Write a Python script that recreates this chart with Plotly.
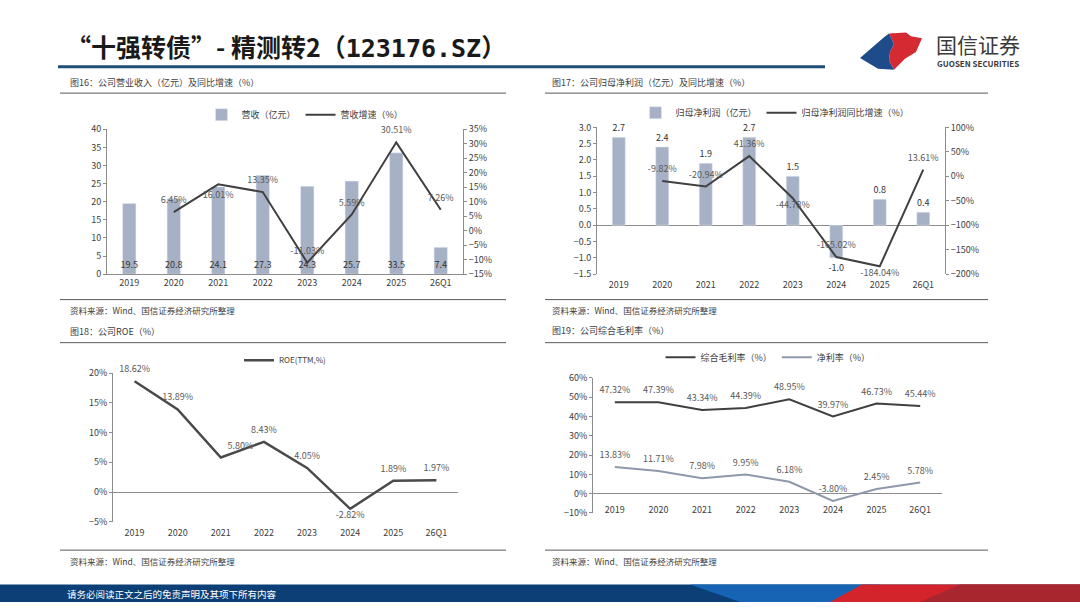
import plotly.graph_objects as go

W, H = 1080, 608


def px(x):
    return x / W


def py(y):
    return 1 - y / H


years = ["2019", "2020", "2021", "2022", "2023", "2024", "2025", "26Q1"]
revenue = [19.5, 20.8, 24.1, 27.3, 24.3, 25.7, 33.5, 7.4]
revenue_yoy = [None, 6.45, 16.01, 13.35, -11.03, 5.59, 30.51, 7.26]
net_profit = [2.7, 2.4, 1.9, 2.7, 1.5, -1.0, 0.8, 0.4]
net_profit_yoy = [None, -9.82, -20.94, 41.36, -44.78, -165.02, -184.04, 13.61]
roe = [18.62, 13.89, 5.80, 8.43, 4.05, -2.82, 1.89, 1.97]
gross_margin = [47.32, 47.39, 43.34, 44.39, 48.95, 39.97, 46.73, 45.44]
net_margin = [13.83, 11.71, 7.98, 9.95, 6.18, -3.80, 2.45, 5.78]

FONT = "Noto Sans CJK SC"
BAR = "#A7B1C5"
DARK = "#404040"
LIGHT = "#8F99AB"
AXIS = "#8C8C8C"
TXT = "#404040"
LBL = "#595959"
CLEAR = "rgba(0,0,0,0)"

p1_pos = ["top center", "top center", "bottom center", "top center",
          "top center", "top center", "top center", "top center"]
p2_pos = ["top center", "top center", "top center", "top center",
          "bottom center", "top center", "bottom center", "top center"]
p3_pos = ["top center", "top center", "top right", "top center",
          "top center", "bottom center", "top center", "top center"]


def pct(vals):
    return ["" if v is None else f"{v:.2f}%" for v in vals]


def ghost(positions=None, near_below=False):
    # invisible markers only push the data labels a little away from the line;
    # labels set below the line stay close so they clear the category labels
    if positions is None:
        size = 9
    else:
        size = [3 if (near_below and p.startswith("bottom")) else 9 for p in positions]
    return dict(size=size, color=CLEAR, line=dict(width=0, color=CLEAR))


fig = go.Figure()

# 图16
fig.add_trace(go.Bar(
    x=years, y=revenue, name="营收（亿元）", marker_color=BAR, width=0.3,
    text=[f"{v:.1f}" for v in revenue], textposition="inside",
    insidetextanchor="start", textangle=0, constraintext="none",
    textfont=dict(size=9, color="#333333"),
    xaxis="x", yaxis="y", legend="legend",
))
fig.add_trace(go.Scatter(
    x=years, y=revenue_yoy, name="营收增速（%）", mode="lines+markers+text",
    line=dict(color=DARK, width=2), marker=ghost(p1_pos),
    text=pct(revenue_yoy), textposition=p1_pos,
    textfont=dict(size=9, color=LBL), cliponaxis=False,
    xaxis="x", yaxis="y2", legend="legend",
))

# 图17
fig.add_trace(go.Bar(
    x=years, y=net_profit, name="归母净利润（亿元）", marker_color=BAR, width=0.3,
    text=[f"{v:.1f}" for v in net_profit], textposition="outside",
    textangle=0, constraintext="none", cliponaxis=False,
    textfont=dict(size=9, color="#333333"),
    xaxis="x2", yaxis="y3", legend="legend2",
))
fig.add_trace(go.Scatter(
    x=years, y=net_profit_yoy, name="归母净利润同比增速（%）",
    mode="lines+markers+text", line=dict(color=DARK, width=2),
    marker=ghost(p2_pos, True), text=pct(net_profit_yoy),
    textposition=p2_pos, textfont=dict(size=9, color=LBL), cliponaxis=False,
    xaxis="x2", yaxis="y4", legend="legend2",
))

# 图18
fig.add_trace(go.Scatter(
    x=years, y=roe, name="ROE(TTM,%)", mode="lines+markers+text",
    line=dict(color="#4A4A4A", width=2.5), marker=ghost(p3_pos, True),
    text=pct(roe), textposition=p3_pos,
    textfont=dict(size=9, color=LBL), cliponaxis=False,
    xaxis="x3", yaxis="y5", legend="legend3",
))

# 图19
fig.add_trace(go.Scatter(
    x=years, y=gross_margin, name="综合毛利率（%）", mode="lines+markers+text",
    line=dict(color=DARK, width=2), marker=ghost(),
    text=pct(gross_margin), textposition="top center",
    textfont=dict(size=9, color=LBL),
    cliponaxis=False, xaxis="x4", yaxis="y6", legend="legend4",
))
fig.add_trace(go.Scatter(
    x=years, y=net_margin, name="净利率（%）", mode="lines+markers+text",
    line=dict(color=LIGHT, width=2), marker=ghost(),
    text=pct(net_margin), textposition="top center",
    textfont=dict(size=9, color=LBL),
    cliponaxis=False, xaxis="x4", yaxis="y6", legend="legend4",
))

tick = dict(size=9, color=TXT, family=FONT)
yax = dict(showgrid=False, showline=True, linecolor=AXIS, linewidth=1,
           ticks="outside", ticklen=3, tickcolor=AXIS, tickfont=tick,
           zeroline=False)
xax = dict(showgrid=False, tickfont=tick, ticks="", type="category",
           range=[-0.5, 7.5], fixedrange=True)

leg = dict(orientation="h", font=dict(size=9, color=TXT, family=FONT),
           bgcolor="rgba(0,0,0,0)", xanchor="center", yanchor="middle",
           itemwidth=30, tracegroupgap=0)

fig.update_layout(
    width=W, height=H, margin=dict(l=0, r=0, t=0, b=0),
    paper_bgcolor="white", plot_bgcolor="white",
    font=dict(family=FONT, color=TXT),
    bargap=0.5,
    xaxis=dict(xax, domain=[px(107), px(463)], anchor="y", showline=True,
               linecolor=AXIS),
    yaxis=dict(yax, domain=[py(273), py(125)], range=[0, 40], dtick=5),
    yaxis2=dict(yax, overlaying="y", side="right", anchor="x",
                range=[-15, 35], dtick=5, ticksuffix="%"),
    xaxis2=dict(xax, domain=[px(597), px(945)], anchor="y3", showline=False,
                ticklabelstandoff=4),
    yaxis3=dict(yax, domain=[py(273), py(123)], anchor="x2", range=[-1.5, 3.0],
                dtick=0.5, tickformat=".1f", zeroline=True,
                zerolinecolor=AXIS, zerolinewidth=1),
    yaxis4=dict(yax, overlaying="y3", side="right", anchor="x2",
                range=[-200, 100], dtick=50, ticksuffix="%"),
    xaxis3=dict(xax, domain=[px(113), px(458)], anchor="y5", showline=False,
                ticklabelstandoff=4),
    yaxis5=dict(yax, domain=[py(526), py(374)], anchor="x3", range=[-5, 20],
                dtick=5, ticksuffix="%", zeroline=True, zerolinecolor=AXIS,
                zerolinewidth=1),
    xaxis4=dict(xax, domain=[px(593), px(942)], anchor="free",
                position=py(497), showline=False, ticklabelstandoff=10),
    yaxis6=dict(yax, domain=[py(517), py(379)], anchor="x4", range=[-10, 60],
                dtick=10, ticksuffix="%", zeroline=True, zerolinecolor=AXIS,
                zerolinewidth=1),
    legend=dict(leg, x=px(305), y=py(110)),
    legend2=dict(leg, x=px(775), y=py(108)),
    legend3=dict(leg, x=px(285), y=py(361), font=dict(size=8, color=TXT, family=FONT)),
    legend4=dict(leg, x=px(768), y=py(358)),
)


def path(points):
    s = "M " + " L ".join(f"{px(x):.5f},{py(y):.5f}" for x, y in points)
    return s + " Z"


shapes = []


def hline(x0, x1, y, color="#595959", width=1):
    shapes.append(dict(type="line", xref="paper", yref="paper",
                       x0=px(x0), x1=px(x1), y0=py(y), y1=py(y),
                       line=dict(color=color, width=width)))


hline(58, 825, 61, color="#1F4E79", width=3)
for (a, b) in [(60, 506), (545, 988)]:
    hline(a, b, 88)
    hline(a, b, 299)
    hline(a, b, 343)
    hline(a, b, 555)

# footer
shapes.append(dict(type="rect", xref="paper", yref="paper", x0=0, x1=1,
                   y0=0, y1=py(590), fillcolor="#0C3F75", line=dict(width=0),
                   layer="below"))
shapes.append(dict(type="path", xref="paper", yref="paper",
                   path=path([(690, 590), (880, 590), (840, 608), (740, 608)]),
                   fillcolor="#1764B4", line=dict(width=0)))
shapes.append(dict(type="path", xref="paper", yref="paper",
                   path=path([(830, 608), (862, 590), (1080, 590), (1080, 608)]),
                   fillcolor="#D3232B", line=dict(width=0)))
shapes.append(dict(type="path", xref="paper", yref="paper",
                   path=path([(920, 608), (960, 590), (1080, 590), (1080, 608)]),
                   fillcolor="#A8262D", line=dict(width=0)))

# logo
shapes.append(dict(type="path", xref="paper", yref="paper",
                   path=path([(889, 27), (906, 26), (911, 30), (922, 32),
                              (916, 46), (905, 53), (894, 64), (889, 55),
                              (890, 46), (894, 38)]),
                   fillcolor="#D62A33", line=dict(width=0)))
shapes.append(dict(type="path", xref="paper", yref="paper",
                   path=path([(860, 52), (884, 31), (889, 27), (894, 38),
                              (890, 46), (889, 55), (894, 64), (878, 63)]),
                   fillcolor="#1E4C8A", line=dict(width=0)))

fig.update_layout(shapes=shapes)


def note(x, y, text, size=9, color=TXT, bold=False, anchor="left"):
    if bold:
        text = f"<b>{text}</b>"
    fig.add_annotation(xref="paper", yref="paper", x=px(x), y=py(y),
                       text=text, showarrow=False, xanchor=anchor,
                       yanchor="middle", font=dict(size=size, color=color,
                                                   family=FONT))


note(64, 40, "“十强转债”- 精测转2（<span style='font-family:DejaVu Sans Mono'>123176.SZ</span>）",
     size=25, color="#1A1A1A", bold=True)
note(934, 38, "国信证券", size=21, color="#3A3A3A")
note(935, 58, "GUOSEN SECURITIES", size=8, color="#3A3A3A", bold=True)

note(68, 77, "图16：公司营业收入（亿元）及同比增速（%）")
note(550, 77, "图17：公司归母净利润（亿元）及同比增速（%）")
note(68, 332, "图18：公司ROE（%）")
note(550, 331, "图19：公司综合毛利率（%）")
for x, y in [(68, 310), (550, 310), (68, 566), (550, 566)]:
    note(x, y, "资料来源：Wind、国信证券经济研究所整理", size=8.5)

note(65, 600, "请务必阅读正文之后的免责声明及其项下所有内容", size=9.5, color="white")

fig.write_html("out.html", config={"displayModeBar": False},
               post_script="document.body.style.margin='0px';")
